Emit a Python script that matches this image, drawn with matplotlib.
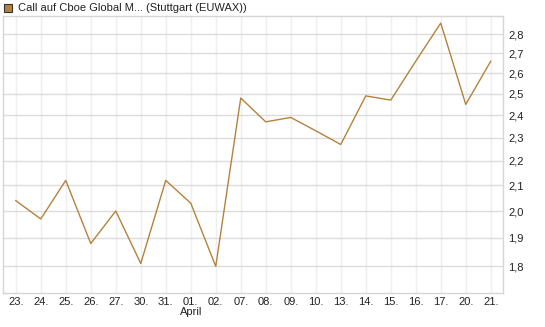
import matplotlib
matplotlib.use("Agg")
import matplotlib.pyplot as plt
from matplotlib.ticker import FixedLocator, NullLocator, FixedFormatter

plt.rcParams['font.family'] = ['Liberation Sans', 'DejaVu Sans']

# Kurswerte
days = ['23.', '24.', '25.', '26.', '27.', '30.', '31.', '01.', '02.', '07.',
        '08.', '09.', '10.', '13.', '14.', '15.', '16.', '17.', '20.', '21.']
prices = [2.04, 1.97, 2.12, 1.88, 2.00, 1.81, 2.12, 2.03, 1.80, 2.48,
          2.37, 2.39, 2.33, 2.27, 2.49, 2.47, 2.66, 2.86, 2.45, 2.66]
y_ticks = [1.8, 1.9, 2.0, 2.1, 2.2, 2.3, 2.4, 2.5, 2.6, 2.7, 2.8]
title = 'Call auf Cboe Global M... (Stuttgart (EUWAX))'
line_color = '#b5823c'

fig = plt.figure(figsize=(5.45, 3.27), dpi=100)
ax = fig.add_axes([2.5 / 545, 1 - 293 / 327, 500.5 / 545, 277 / 327])

x = list(range(len(days)))
ax.plot(x, prices, color=line_color, linewidth=1.0, zorder=3)

ax.set_yscale('log')
ax.set_ylim(1.711, 2.899)
ax.set_xlim(-0.53, 19.49)

ax.yaxis.set_major_locator(FixedLocator(y_ticks))
ax.yaxis.set_major_formatter(FixedFormatter([f'{v:.1f}'.replace('.', ',') for v in y_ticks]))
ax.yaxis.set_minor_locator(NullLocator())
ax.yaxis.tick_right()

ax.set_xticks(x)
ax.set_xticklabels(days)

ax.tick_params(axis='both', length=0, labelsize=8, colors='#222222')
ax.tick_params(axis='y', pad=4)
ax.tick_params(axis='x', pad=3)

ax.grid(axis='y', color='#dcdcdc', linewidth=1.0)
ax.grid(axis='x', color='#efefef', linewidth=1.0)
ax.set_axisbelow(True)
for s in ax.spines.values():
    s.set_color('#d6d6d6')
    s.set_linewidth(1.0)

# Monatsname unter 01.
ax.text(days.index('01.'), -0.052, 'April', transform=ax.get_xaxis_transform(),
        ha='center', va='top', fontsize=8, color='#222222')

# Legende oben links
fig.patches.append(plt.Rectangle((4 / 545, 1 - 12 / 327), 8 / 545, 8 / 327,
                                 transform=fig.transFigure, facecolor=line_color,
                                 edgecolor='#333333', linewidth=0.8))
fig.text(18 / 545, 1 - 8 / 327, title, ha='left', va='center', fontsize=8, color='#222222')

fig.savefig('out.png', dpi=100)
